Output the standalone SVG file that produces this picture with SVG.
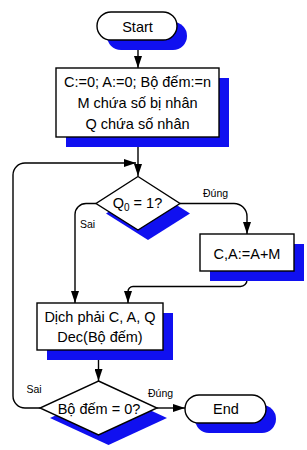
<svg xmlns="http://www.w3.org/2000/svg" width="307" height="450" viewBox="0 0 307 450">
<defs>
<style>
.sh{fill:#1010F0;stroke:none}
.nd{fill:#fff;stroke:#000;stroke-width:1.4}
.t{font-family:"Liberation Sans",Arial,sans-serif;font-size:14.5px;fill:#000;text-anchor:middle}
.s{font-family:"Liberation Sans",Arial,sans-serif;font-size:10.5px;fill:#000}
.c{fill:none;stroke:#000;stroke-width:1.4}
</style>
<marker id="ah" markerUnits="userSpaceOnUse" markerWidth="12" markerHeight="8" refX="12" refY="4" orient="auto">
<path d="M0,0 L12,4 L0,8 z" fill="#000"/>
</marker>
</defs>
<rect width="307" height="450" fill="#fff"/>
<g id="connectors">
<path class="c" d="M138,40 V68" marker-end="url(#ah)"/>
<path class="c" d="M138,137 V176" marker-end="url(#ah)"/>
<path class="c" d="M40,408 H25 A12,12 0 0 1 13,396 V175 A12,12 0 0 1 25,163 H136" marker-end="url(#ah)"/>
<path class="c" d="M96,203.5 H86 A11,11 0 0 0 75,214.5 V303" marker-end="url(#ah)"/>
<path class="c" d="M180,203.5 H234 A13,13 0 0 1 247,216.5 V234" marker-end="url(#ah)"/>
<path class="c" d="M247,271 V280 A6.5,6.5 0 0 1 240.5,286.5 H133 A5,5 0 0 0 128,291.5 V303" marker-end="url(#ah)"/>
<path class="c" d="M98.5,350 V381" marker-end="url(#ah)"/>
<path class="c" d="M157,408 H185" marker-end="url(#ah)"/>
</g>
<g id="start">
<rect class="sh" x="107" y="22" width="80" height="28" rx="14"/>
<rect class="nd" x="97" y="12" width="80" height="28" rx="14"/>
<text class="t" x="137.5" y="32">Start</text>
</g>
<g id="init">
<rect class="sh" x="66" y="78" width="163" height="69"/>
<rect class="nd" x="56" y="68" width="163" height="69"/>
<text class="t" x="137.5" y="87">C:=0; A:=0; Bộ đếm:=n</text>
<text class="t" x="137.5" y="108">M chứa số bị nhân</text>
<text class="t" x="137.5" y="128.5">Q chứa số nhân</text>
</g>
<g id="cond1">
<polygon class="sh" points="148,187 190,213.5 148,240 106,213.5"/>
<polygon class="nd" points="138,176.5 180,203.5 138,230 96,203.5"/>
<text class="t" x="137.5" y="208" style="text-anchor:middle">Q<tspan font-size="10px" dy="3">0</tspan><tspan dy="-3"> = 1?</tspan></text>
</g>
<g id="add">
<rect class="sh" x="210" y="244" width="94" height="37"/>
<rect class="nd" x="200" y="234" width="94" height="37"/>
<text class="t" x="247" y="258.5">C,A:=A+M</text>
</g>
<g id="shift">
<rect class="sh" x="47" y="313" width="126" height="47"/>
<rect class="nd" x="37" y="303" width="126" height="47"/>
<text class="t" x="100" y="321.5">Dịch phải C, A, Q</text>
<text class="t" x="100" y="342">Dec(Bộ đếm)</text>
</g>
<g id="cond2">
<polygon class="sh" points="108.5,391 167,418 108.5,445 50,418"/>
<polygon class="nd" points="98.5,381 157,408 98.5,435 40,408"/>
<text class="t" x="99" y="414">Bộ đếm = 0?</text>
</g>
<g id="end">
<rect class="sh" x="195" y="405" width="81" height="28" rx="14"/>
<rect class="nd" x="185" y="395" width="81" height="28" rx="14"/>
<text class="t" x="226" y="414">End</text>
</g>
<g id="labels">
<text class="s" x="203" y="197">Đúng</text>
<text class="s" x="80" y="228">Sai</text>
<text class="s" x="26.5" y="392.5">Sai</text>
<text class="s" x="148" y="397">Đúng</text>
</g>
</svg>
